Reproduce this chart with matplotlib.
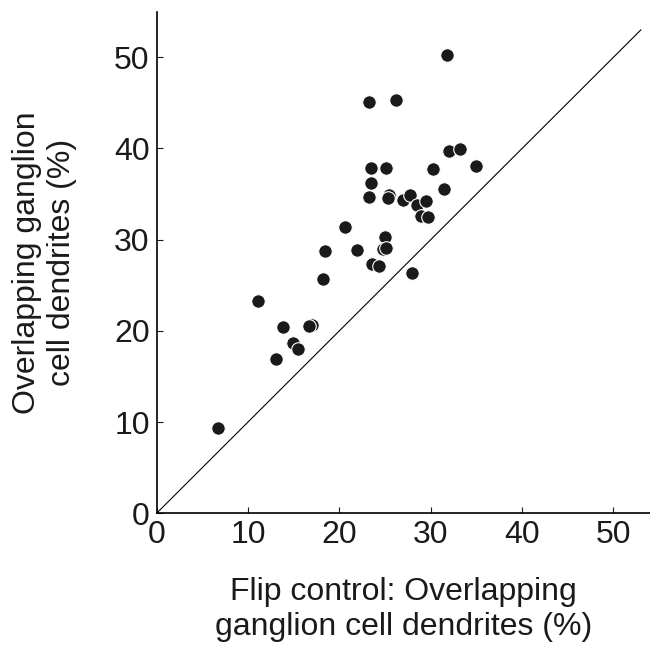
import numpy as np
import matplotlib
matplotlib.use("Agg")
import matplotlib.pyplot as plt

plt.rcParams['font.family'] = ['Liberation Sans', 'DejaVu Sans']

# flip control overlap (x) vs real overlap (y), in percent
flip_overlap = [31.8, 23.25, 26.2, 32.0, 33.2, 35.0, 23.5, 25.1, 30.3, 23.5,
                31.4, 23.2, 25.4, 25.3, 27.0, 27.7, 28.5, 29.5, 28.9, 29.7,
                20.6, 25.0, 24.8, 25.1, 18.4, 21.9, 23.6, 24.3, 27.9, 18.25,
                11.1, 13.8, 17.0, 16.7, 14.9, 15.5, 13.1, 6.7]
real_overlap = [50.3, 45.1, 45.3, 39.7, 39.9, 38.1, 37.9, 37.9, 37.8, 36.2,
                35.6, 34.7, 34.9, 34.6, 34.4, 34.9, 33.8, 34.2, 32.6, 32.5,
                31.4, 30.3, 29.0, 29.1, 28.8, 28.9, 27.3, 27.1, 26.35, 25.7,
                23.25, 20.4, 20.6, 20.5, 18.7, 18.0, 16.9, 9.3]
ticks = [0, 10, 20, 30, 40, 50]

fig = plt.figure(figsize=(6.5, 6.48), dpi=100)
ax = fig.add_axes([0.241, 0.208, 0.759, 0.774])

ax.plot([0, 53], [0, 53], color='black', lw=0.8, zorder=1)
ax.scatter(flip_overlap, real_overlap, s=95, c='#1a1a1a', edgecolors='white',
           linewidths=0.8, zorder=2)

ax.set_xlim(0, 54)
ax.set_ylim(0, 55)
ax.set_xticks(ticks)
ax.set_yticks(ticks)
ax.tick_params(direction='in', length=4, width=0.8, labelsize=23, pad=5,
               colors='#1a1a1a')
for side in ['top', 'right']:
    ax.spines[side].set_visible(False)
for side in ['left', 'bottom']:
    ax.spines[side].set_linewidth(1.2)

ax.set_xlabel("Flip control: Overlapping\nganglion cell dendrites (%)",
              fontsize=23, color='#1a1a1a')
ax.set_ylabel("Overlapping ganglion\ncell dendrites (%)", fontsize=23,
              color='#1a1a1a')
ax.xaxis.set_label_coords(0.5, -0.128)
ax.yaxis.set_label_coords(-0.162, 0.5)

fig.savefig("out.png", dpi=100)
